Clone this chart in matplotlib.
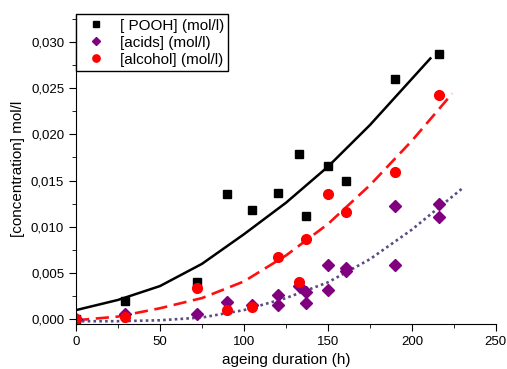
#!/usr/bin/env python3
""" concentrations vs ageing duration
"""
import matplotlib
matplotlib.use('Agg')
import matplotlib.pyplot as plt
from matplotlib.ticker import MultipleLocator, FuncFormatter

# measured points
pooh_t = [0, 29, 72, 90, 105, 120, 133, 137, 150, 161, 190, 216]
pooh_c = [0.0000, 0.0020, 0.0040, 0.0135, 0.0118, 0.0137, 0.0179, 0.0112,
          0.0166, 0.0149, 0.0260, 0.0287]

acid_t = [0, 29, 72, 90, 105, 120, 120, 133, 137, 137, 150, 150, 161, 161,
          190, 190, 216, 216]
acid_c = [0.0000, 0.0006, 0.0006, 0.0019, 0.0016, 0.0026, 0.0016, 0.0036,
          0.0030, 0.0018, 0.0059, 0.0032, 0.0056, 0.0052, 0.0122, 0.0059,
          0.0125, 0.0111]

alc_t = [0, 29, 72, 90, 105, 120, 133, 137, 150, 161, 190, 216]
alc_c = [0.0000, 0.0003, 0.0034, 0.0010, 0.0013, 0.0067, 0.0040, 0.0087,
         0.0136, 0.0116, 0.0159, 0.0243]

# fitted curves
pooh_fit_t = [0, 25, 50, 75, 100, 125, 150, 175, 200, 211]
pooh_fit_c = [0.0010, 0.0021, 0.0036, 0.0060, 0.0092, 0.0126, 0.0165,
              0.0210, 0.0260, 0.0282]

alc_fit_t = [0, 25, 50, 75, 100, 125, 150, 175, 200, 224]
alc_fit_c = [-0.0001, 0.0003, 0.0012, 0.0023, 0.0041, 0.0069, 0.0103,
             0.0145, 0.0193, 0.0244]

acid_fit_t = [0, 25, 50, 75, 100, 125, 150, 175, 200, 231]
acid_fit_c = [-0.0002, -0.0002, -0.0001, 0.0002, 0.0010, 0.0023, 0.0040,
              0.0065, 0.0097, 0.0143]

plt.rcParams['font.family'] = ['Liberation Sans', 'DejaVu Sans']

fig = plt.figure(figsize=(5.07, 3.69), dpi=100)
ax = fig.add_axes([0.150, 0.122, 0.828, 0.840])

ax.plot(pooh_fit_t, pooh_fit_c, color='black', lw=1.8)
ax.plot(alc_fit_t, alc_fit_c, color='#ff1010', lw=1.9, dashes=(5, 2.5))
ax.plot(acid_fit_t, acid_fit_c, color='#5c4a86', lw=1.9, dashes=(1, 1.2))

ax.plot(pooh_t, pooh_c, 's', color='black', ms=6, ls='none',
        label='[ POOH] (mol/l)')
ax.plot(acid_t, acid_c, 'D', color='#800080', ms=6, ls='none',
        label='[acids] (mol/l)')
ax.plot(alc_t, alc_c, 'o', color='#ff0000', ms=7, ls='none',
        label='[alcohol] (mol/l)')

ax.set_xlim(0, 250)
ax.set_ylim(-0.0005, 0.033)
ax.xaxis.set_major_locator(MultipleLocator(50))
ax.xaxis.set_minor_locator(MultipleLocator(25))
ax.yaxis.set_major_locator(MultipleLocator(0.005))
ax.yaxis.set_minor_locator(MultipleLocator(0.0025))
ax.yaxis.set_major_formatter(FuncFormatter(lambda v, p: f'{v:.3f}'.replace('.', ',')))

for side in ('top', 'right'):
    ax.spines[side].set_visible(False)
ax.tick_params(which='major', direction='out', length=5, labelsize=9.5)
ax.tick_params(which='minor', direction='out', length=3)

ax.set_xlabel('ageing duration (h)', fontsize=11)
ax.set_ylabel('[concentration] mol/l', fontsize=11)

leg = ax.legend(loc='upper left', fontsize=11, fancybox=False,
                edgecolor='black', framealpha=1, borderaxespad=0,
                handletextpad=0.55, borderpad=0.3, labelspacing=0.2,
                handlelength=2.0, markerscale=0.75)
leg.get_frame().set_linewidth(1)

fig.savefig('out.png', dpi=100)
